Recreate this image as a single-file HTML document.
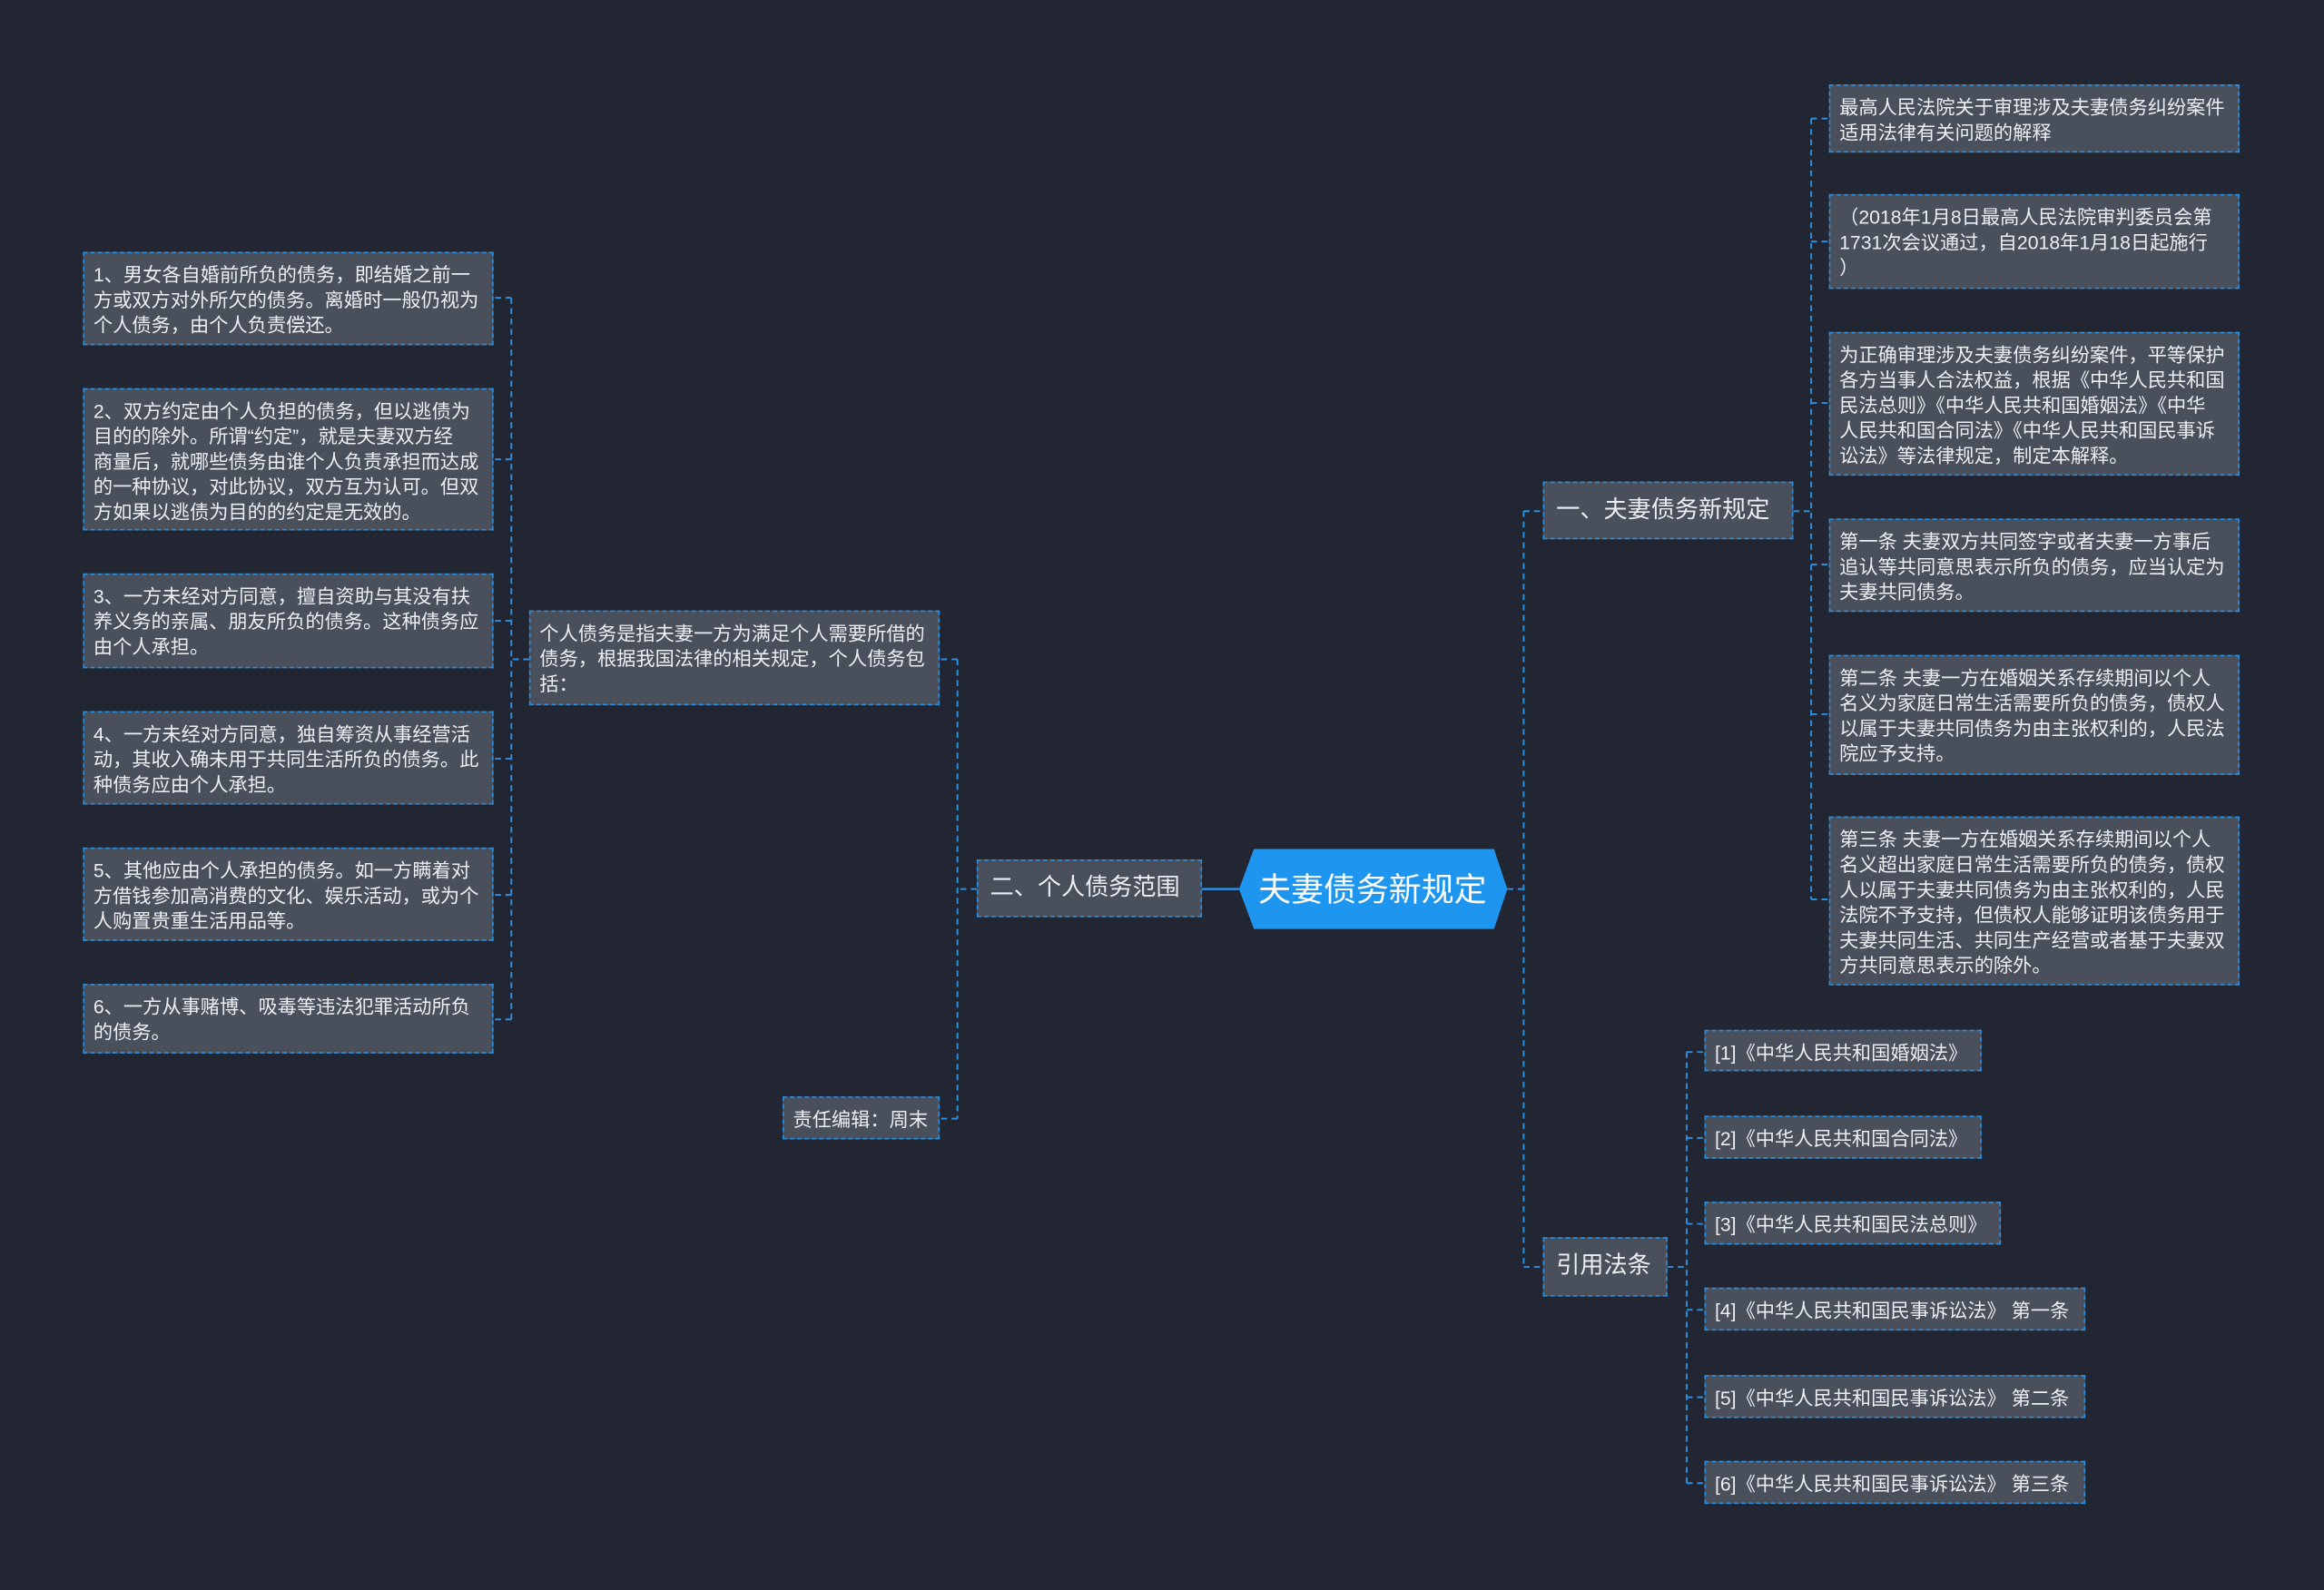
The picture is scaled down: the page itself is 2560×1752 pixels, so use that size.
<!DOCTYPE html>
<html><head><meta charset="utf-8"><style>
html,body{margin:0;padding:0;background:#222632;width:2560px;height:1752px;overflow:hidden}
#w{position:absolute;left:0;top:0;width:1568px;height:1073px;transform:scale(1.632653);transform-origin:0 0;font-family:"Liberation Sans","Noto Sans CJK SC",sans-serif}
.b{position:absolute;box-sizing:border-box;border:1px dashed #2b8fe0;background:#4a4f5c;color:#eceef2;font-size:13px;line-height:17px;padding:6px 6px 4px;white-space:nowrap}
.m{font-size:16px;line-height:20px;padding:9px 8px}
svg{position:absolute;left:0;top:0}
</style></head><body><div id="w">
<svg width="1568" height="1073" fill="none" stroke="#2b8fe0" stroke-width="1.2" stroke-dasharray="4 3">
<path d="M1017 600H1028M1028 345V855M1028 345H1041M1028 855H1041" />
<path d="M1210 345H1222M1222 80V607M1222 80H1234M1222 163H1234M1222 272H1234M1222 381H1234M1222 482H1234M1222 607H1234"/>
<path d="M1125 855H1138M1138 710V1001M1138 710H1150M1138 768H1150M1138 826H1150M1138 884H1150M1138 943H1150M1138 1001H1150"/>
<path d="M659 600H646M646 445V755M646 445H634M646 755H634"/>
<path d="M357 445H345M345 201V688M345 201H333M345 310H333M345 419H333M345 512H333M345 604H333M345 688H333"/>
</svg>
<svg width="1568" height="1073"><path d="M811 600H836" stroke="#2b8fe0" stroke-width="1.5"/><polygon points="836,600 846,573 1008,573 1017,600 1008,627 846,627" fill="#1e96f0"/>
<text x="926" y="608" fill="#fff" font-size="22" text-anchor="middle" font-family="Liberation Sans,Noto Sans CJK SC,sans-serif">夫妻债务新规定</text></svg>
<div class="b m" style="left:1041px;top:325px;width:169px;height:39px">一、夫妻债务新规定</div>
<div class="b m" style="left:1041px;top:835px;width:84px;height:40px">引用法条</div>
<div class="b m" style="left:659px;top:580px;width:152px;height:39px">二、个人债务范围</div>
<div class="b" style="left:1234px;top:57px;width:277px;height:46px">最高人民法院关于审理涉及夫妻债务纠纷案件<br>适用法律有关问题的解释</div>
<div class="b" style="left:1234px;top:131px;width:277px;height:64px">（2018年1月8日最高人民法院审判委员会第<br>1731次会议通过，自2018年1月18日起施行<br>）</div>
<div class="b" style="left:1234px;top:224px;width:277px;height:97px">为正确审理涉及夫妻债务纠纷案件，平等保护<br>各方当事人合法权益，根据《中华人民共和国<br>民法总则》《中华人民共和国婚姻法》《中华<br>人民共和国合同法》《中华人民共和国民事诉<br>讼法》等法律规定，制定本解释。</div>
<div class="b" style="left:1234px;top:350px;width:277px;height:63px">第一条 夫妻双方共同签字或者夫妻一方事后<br>追认等共同意思表示所负的债务，应当认定为<br>夫妻共同债务。</div>
<div class="b" style="left:1234px;top:442px;width:277px;height:81px">第二条 夫妻一方在婚姻关系存续期间以个人<br>名义为家庭日常生活需要所负的债务，债权人<br>以属于夫妻共同债务为由主张权利的，人民法<br>院应予支持。</div>
<div class="b" style="left:1234px;top:551px;width:277px;height:114px">第三条 夫妻一方在婚姻关系存续期间以个人<br>名义超出家庭日常生活需要所负的债务，债权<br>人以属于夫妻共同债务为由主张权利的，人民<br>法院不予支持，但债权人能够证明该债务用于<br>夫妻共同生活、共同生产经营或者基于夫妻双<br>方共同意思表示的除外。</div>
<div class="b" style="left:1150px;top:695px;width:187px;height:28px">[1]《中华人民共和国婚姻法》</div>
<div class="b" style="left:1150px;top:753px;width:187px;height:29px">[2]《中华人民共和国合同法》</div>
<div class="b" style="left:1150px;top:811px;width:200px;height:29px">[3]《中华人民共和国民法总则》</div>
<div class="b" style="left:1150px;top:869px;width:257px;height:29px">[4]《中华人民共和国民事诉讼法》 第一条</div>
<div class="b" style="left:1150px;top:928px;width:257px;height:29px">[5]《中华人民共和国民事诉讼法》 第二条</div>
<div class="b" style="left:1150px;top:986px;width:257px;height:29px">[6]《中华人民共和国民事诉讼法》 第三条</div>
<div class="b" style="left:357px;top:412px;width:277px;height:64px">个人债务是指夫妻一方为满足个人需要所借的<br>债务，根据我国法律的相关规定，个人债务包<br>括：</div>
<div class="b" style="left:528px;top:740px;width:106px;height:29px">责任编辑：周末</div>
<div class="b" style="left:56px;top:170px;width:277px;height:63px">1、男女各自婚前所负的债务，即结婚之前一<br>方或双方对外所欠的债务。离婚时一般仍视为<br>个人债务，由个人负责偿还。</div>
<div class="b" style="left:56px;top:262px;width:277px;height:96px">2、双方约定由个人负担的债务，但以逃债为<br>目的的除外。所谓“约定”，就是夫妻双方经<br>商量后，就哪些债务由谁个人负责承担而达成<br>的一种协议，对此协议，双方互为认可。但双<br>方如果以逃债为目的的约定是无效的。</div>
<div class="b" style="left:56px;top:387px;width:277px;height:64px">3、一方未经对方同意，擅自资助与其没有扶<br>养义务的亲属、朋友所负的债务。这种债务应<br>由个人承担。</div>
<div class="b" style="left:56px;top:480px;width:277px;height:63px">4、一方未经对方同意，独自筹资从事经营活<br>动，其收入确未用于共同生活所负的债务。此<br>种债务应由个人承担。</div>
<div class="b" style="left:56px;top:572px;width:277px;height:63px">5、其他应由个人承担的债务。如一方瞒着对<br>方借钱参加高消费的文化、娱乐活动，或为个<br>人购置贵重生活用品等。</div>
<div class="b" style="left:56px;top:664px;width:277px;height:47px">6、一方从事赌博、吸毒等违法犯罪活动所负<br>的债务。</div>
</div></body></html>
